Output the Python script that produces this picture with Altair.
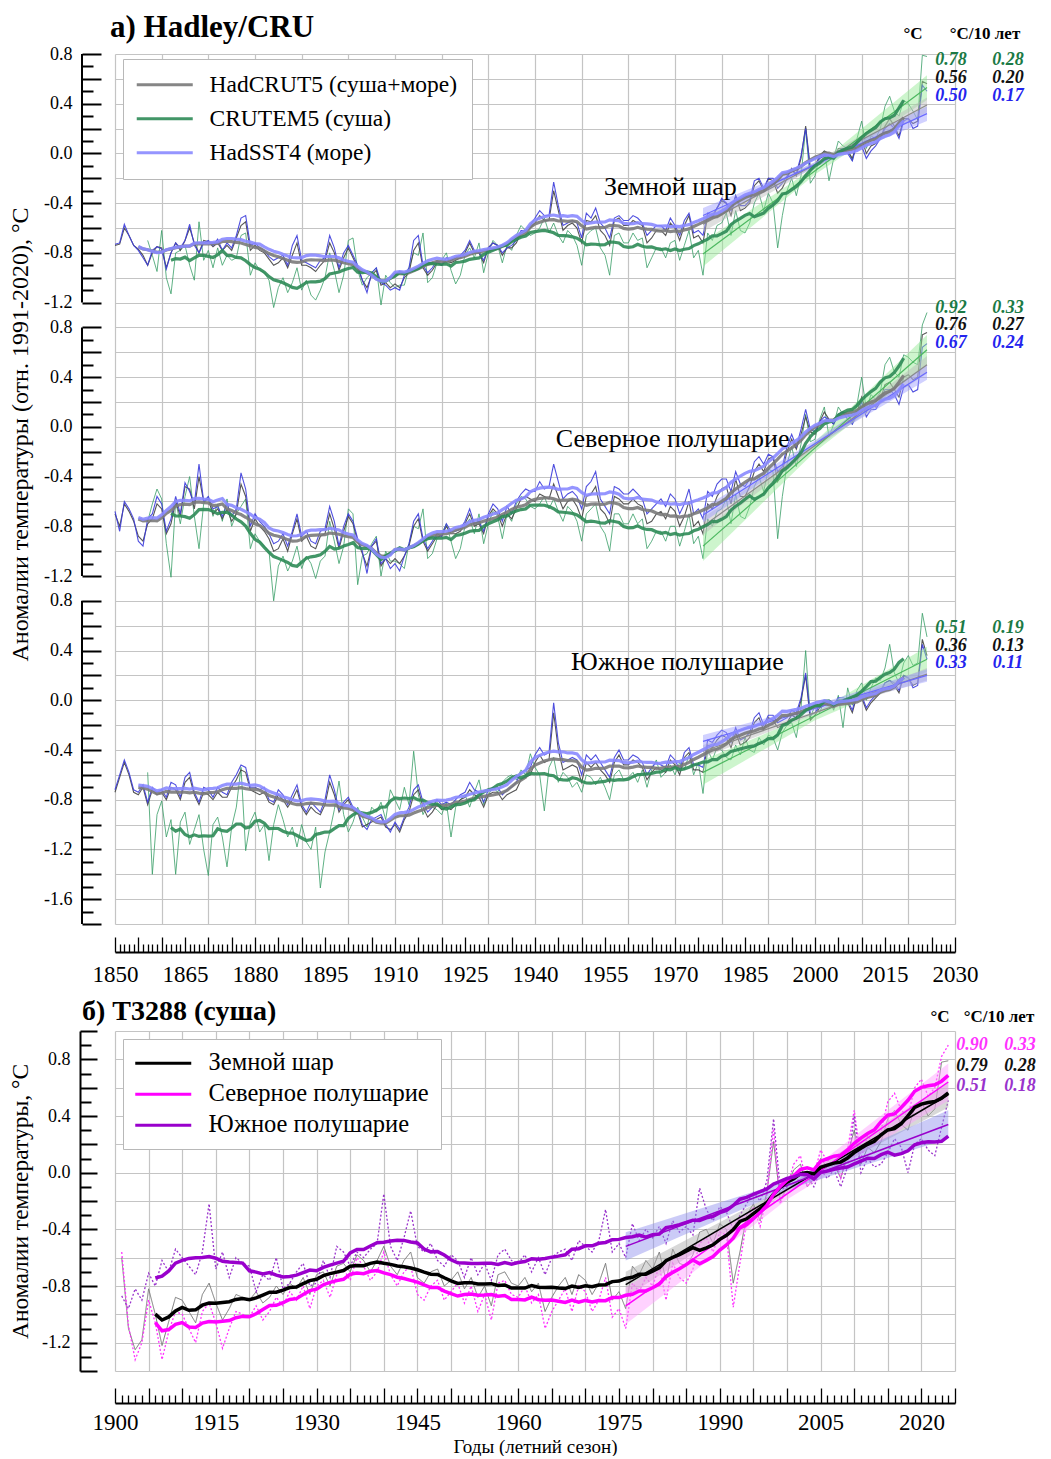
import altair as alt
import pandas as pd

FONT = "Liberation Serif"

# ======================= PART A: Hadley/CRU =======================
YEARS_A = list(range(1850, 2025))
YEARS_A_LAND = list(range(1857, 2025))
SERIES_A = ["HadCRUT5 (суша+море)", "CRUTEM5 (суша)", "HadSST4 (море)"]
PANELS_A = ["Земной шар", "Северное полушарие", "Южное полушарие"]

GL_HC = [
    -0.74, -0.73, -0.60, -0.66, -0.74, -0.77, -0.82, -0.90, -0.80, -0.75,
    -0.76, -0.92, -0.80, -0.72, -0.78, -0.70, -0.60, -0.72, -0.80, -0.70,
    -0.71, -0.75, -0.72, -0.78, -0.74, -0.78, -0.68, -0.58, -0.55, -0.78,
    -0.74, -0.78, -0.80, -0.85, -0.90, -0.88, -0.84, -0.92, -0.82, -0.72,
    -0.90, -0.90, -0.92, -0.95, -0.90, -0.86, -0.72, -0.80, -0.94, -0.84,
    -0.76, -0.84, -0.92, -1.02, -1.08, -0.98, -0.94, -1.06, -1.04, -1.08,
    -1.05, -1.08, -1.00, -0.96, -0.78, -0.72, -0.92, -0.98, -0.94, -0.88,
    -0.90, -0.86, -0.88, -0.86, -0.84, -0.80, -0.72, -0.80, -0.80, -0.88,
    -0.76, -0.72, -0.74, -0.82, -0.76, -0.76, -0.72, -0.64, -0.62, -0.60,
    -0.56, -0.50, -0.54, -0.54, -0.30, -0.46, -0.62, -0.58, -0.56, -0.60,
    -0.72, -0.54, -0.55, -0.50, -0.62, -0.66, -0.74, -0.54, -0.52, -0.58,
    -0.58, -0.54, -0.56, -0.58, -0.72, -0.68, -0.62, -0.62, -0.66, -0.56,
    -0.60, -0.70, -0.58, -0.50, -0.68, -0.66, -0.72, -0.50, -0.52, -0.44,
    -0.38, -0.40, -0.50, -0.34, -0.46, -0.44, -0.40, -0.26, -0.22, -0.30,
    -0.20, -0.22, -0.32, -0.28, -0.20, -0.12, -0.18, -0.04, 0.22, -0.12,
    -0.10, -0.02, 0.02, 0.00, -0.04, 0.04, 0.04, 0.02, -0.04, 0.08,
    0.12, 0.00, 0.06, 0.08, 0.12, 0.22, 0.28, 0.22, 0.14, 0.28,
    0.28, 0.24, 0.26, 0.58, 0.56,
]
GL_SS = [
    -0.73, -0.72, -0.57, -0.66, -0.74, -0.78, -0.84, -0.90, -0.78, -0.75,
    -0.77, -0.93, -0.80, -0.72, -0.76, -0.70, -0.57, -0.74, -0.80, -0.72,
    -0.70, -0.74, -0.69, -0.78, -0.72, -0.76, -0.66, -0.52, -0.50, -0.74,
    -0.72, -0.76, -0.78, -0.83, -0.86, -0.84, -0.82, -0.90, -0.74, -0.66,
    -0.86, -0.88, -0.90, -0.92, -0.86, -0.84, -0.66, -0.76, -0.92, -0.80,
    -0.74, -0.82, -0.90, -1.02, -1.12, -0.96, -0.92, -1.04, -1.06, -1.10,
    -1.08, -1.10, -0.98, -0.92, -0.70, -0.66, -0.90, -0.96, -0.92, -0.86,
    -0.90, -0.84, -0.86, -0.84, -0.82, -0.78, -0.70, -0.78, -0.80, -0.86,
    -0.76, -0.72, -0.74, -0.80, -0.76, -0.74, -0.70, -0.62, -0.62, -0.58,
    -0.52, -0.46, -0.50, -0.50, -0.23, -0.42, -0.58, -0.56, -0.54, -0.56,
    -0.68, -0.48, -0.52, -0.44, -0.56, -0.60, -0.68, -0.52, -0.50, -0.54,
    -0.54, -0.50, -0.52, -0.56, -0.66, -0.62, -0.58, -0.58, -0.62, -0.52,
    -0.58, -0.66, -0.54, -0.48, -0.64, -0.62, -0.66, -0.48, -0.50, -0.44,
    -0.36, -0.40, -0.46, -0.34, -0.42, -0.42, -0.38, -0.22, -0.20, -0.28,
    -0.20, -0.20, -0.28, -0.24, -0.18, -0.14, -0.16, -0.02, 0.20, -0.14,
    -0.10, -0.04, -0.02, -0.02, -0.04, 0.02, 0.04, 0.00, -0.06, 0.08,
    0.06, -0.04, 0.02, 0.06, 0.12, 0.20, 0.24, 0.20, 0.12, 0.26,
    0.28, 0.20, 0.22, 0.55, 0.50,
]
GL_CR = [
    -0.70, -0.82, -0.95,
    -0.62, -1.00, -1.13, -0.80, -0.78, -0.74, -0.90, -1.02, -0.55, -0.86,
    -0.78, -0.92, -0.76, -0.90, -0.82, -0.86, -0.84, -0.66, -0.64, -0.98,
    -0.88, -0.94, -0.96, -1.02, -1.24, -1.08, -1.00, -1.12, -1.04, -0.92,
    -1.10, -1.02, -1.14, -1.18, -1.10, -1.00, -0.80, -0.94, -1.12, -0.98,
    -0.70, -0.68, -0.94, -1.06, -1.00, -0.96, -0.92, -1.22, -0.98, -1.04,
    -1.08, -1.06, -1.06, -0.92, -0.80, -0.82, -0.64, -1.04, -1.00, -0.88,
    -0.86, -0.80, -0.94, -1.05, -0.98, -0.82, -0.76, -0.84, -0.72, -0.96,
    -0.80, -0.70, -0.74, -0.88, -0.74, -0.78, -0.66, -0.58, -0.62, -0.66,
    -0.64, -0.60, -0.52, -0.64, -0.56, -0.66, -0.72, -0.62, -0.66, -0.74,
    -0.90, -0.66, -0.62, -0.60, -0.76, -0.82, -0.98, -0.66, -0.64, -0.72,
    -0.72, -0.64, -0.70, -0.68, -0.92, -0.84, -0.76, -0.76, -0.84, -0.72,
    -0.70, -0.86, -0.74, -0.62, -0.84, -0.78, -0.98, -0.64, -0.70, -0.58,
    -0.56, -0.48, -0.66, -0.46, -0.62, -0.64, -0.56, -0.40, -0.32, -0.46,
    -0.32, -0.40, -0.76, -0.50, -0.30, -0.20, -0.34, -0.18, 0.20, -0.24,
    -0.18, -0.02, 0.02, -0.22, -0.04, 0.10, 0.06, 0.04, -0.06, 0.12,
    0.26, 0.04, 0.14, 0.12, 0.20, 0.38, 0.46, 0.34, 0.30, 0.43,
    0.40, 0.34, 0.27, 0.79, 0.78,
]
NH_HC = [
    -0.70, -0.80, -0.62, -0.68, -0.76, -0.88, -0.92, -0.78, -0.74, -0.62,
    -0.66, -0.86, -0.78, -0.60, -0.72, -0.48, -0.50, -0.66, -0.40, -0.60,
    -0.58, -0.70, -0.66, -0.74, -0.66, -0.76, -0.70, -0.46, -0.56, -0.84,
    -0.74, -0.80, -0.84, -0.90, -1.00, -0.98, -0.90, -1.00, -0.86, -0.74,
    -0.92, -0.88, -0.96, -0.98, -0.88, -0.86, -0.70, -0.82, -0.98, -0.84,
    -0.72, -0.78, -0.92, -1.02, -1.12, -0.96, -0.92, -1.12, -1.06, -1.10,
    -1.06, -1.10, -1.04, -0.96, -0.80, -0.74, -0.92, -1.00, -0.94, -0.88,
    -0.88, -0.80, -0.86, -0.86, -0.84, -0.78, -0.70, -0.80, -0.78, -0.86,
    -0.72, -0.66, -0.70, -0.80, -0.70, -0.74, -0.66, -0.58, -0.56, -0.58,
    -0.60, -0.54, -0.56, -0.58, -0.46, -0.56, -0.66, -0.60, -0.58, -0.64,
    -0.74, -0.56, -0.54, -0.48, -0.66, -0.70, -0.78, -0.56, -0.58, -0.62,
    -0.62, -0.58, -0.62, -0.64, -0.78, -0.76, -0.70, -0.68, -0.74, -0.64,
    -0.68, -0.80, -0.72, -0.60, -0.80, -0.76, -0.86, -0.62, -0.66, -0.56,
    -0.50, -0.48, -0.62, -0.42, -0.56, -0.56, -0.48, -0.36, -0.30, -0.36,
    -0.26, -0.24, -0.44, -0.36, -0.20, -0.10, -0.18, -0.06, 0.08, -0.04,
    -0.06, 0.04, 0.12, 0.06, 0.02, 0.10, 0.12, 0.10, 0.04, 0.12,
    0.24, 0.12, 0.20, 0.16, 0.22, 0.34, 0.36, 0.30, 0.24, 0.40,
    0.42, 0.38, 0.40, 0.74, 0.76,
]
NH_SS = [
    -0.68, -0.84, -0.60, -0.66, -0.74, -0.92, -0.96, -0.74, -0.70, -0.56,
    -0.62, -0.84, -0.74, -0.56, -0.70, -0.45, -0.52, -0.62, -0.30, -0.60,
    -0.56, -0.66, -0.64, -0.72, -0.62, -0.72, -0.66, -0.37, -0.50, -0.80,
    -0.70, -0.76, -0.80, -0.86, -0.94, -0.92, -0.86, -0.96, -0.84, -0.70,
    -0.88, -0.84, -0.92, -0.94, -0.84, -0.82, -0.64, -0.76, -0.96, -0.80,
    -0.70, -0.76, -0.90, -1.00, -1.18, -0.96, -0.90, -1.10, -1.06, -1.14,
    -1.10, -1.16, -1.04, -0.94, -0.76, -0.70, -0.90, -0.98, -0.92, -0.86,
    -0.88, -0.78, -0.84, -0.84, -0.82, -0.76, -0.66, -0.78, -0.76, -0.84,
    -0.70, -0.62, -0.66, -0.76, -0.64, -0.70, -0.60, -0.54, -0.50, -0.52,
    -0.52, -0.44, -0.50, -0.48, -0.30, -0.44, -0.58, -0.54, -0.52, -0.56,
    -0.66, -0.48, -0.44, -0.36, -0.58, -0.64, -0.70, -0.48, -0.50, -0.54,
    -0.54, -0.50, -0.54, -0.58, -0.70, -0.66, -0.62, -0.58, -0.64, -0.54,
    -0.58, -0.70, -0.62, -0.50, -0.70, -0.66, -0.74, -0.52, -0.56, -0.46,
    -0.42, -0.42, -0.52, -0.36, -0.46, -0.48, -0.42, -0.28, -0.24, -0.30,
    -0.22, -0.24, -0.36, -0.32, -0.16, -0.06, -0.16, -0.02, 0.14, -0.02,
    -0.04, 0.04, 0.08, 0.06, 0.02, 0.10, 0.12, 0.06, 0.02, 0.10,
    0.20, 0.08, 0.14, 0.14, 0.20, 0.30, 0.30, 0.26, 0.18, 0.32,
    0.34, 0.28, 0.30, 0.64, 0.67,
]
NH_CR = [
    -0.76, -0.62, -0.50,
    -0.58, -0.94, -1.21, -0.60, -0.78, -0.56, -0.40, -0.72, -0.98, -0.62,
    -0.56, -0.72, -0.62, -0.76, -0.58, -0.80, -0.70, -0.64, -0.58, -0.98,
    -0.86, -0.92, -0.96, -1.00, -1.40, -1.12, -1.04, -1.16, -1.08, -0.96,
    -1.14, -1.04, -1.10, -1.22, -1.08, -1.04, -0.76, -0.92, -1.10, -0.96,
    -0.66, -0.70, -1.27, -1.04, -1.02, -0.94, -0.88, -1.20, -1.00, -1.08,
    -1.08, -1.10, -1.14, -0.94, -0.80, -0.82, -0.66, -1.06, -1.02, -0.90,
    -0.86, -0.78, -0.92, -1.06, -0.98, -0.80, -0.74, -0.86, -0.70, -0.94,
    -0.78, -0.68, -0.72, -0.90, -0.70, -0.76, -0.62, -0.56, -0.58, -0.64,
    -0.66, -0.62, -0.56, -0.66, -0.58, -0.68, -0.76, -0.64, -0.68, -0.76,
    -0.92, -0.70, -0.66, -0.62, -0.80, -0.86, -1.00, -0.70, -0.70, -0.78,
    -0.78, -0.70, -0.78, -0.74, -0.98, -0.92, -0.84, -0.84, -0.92, -0.80,
    -0.80, -0.96, -0.84, -0.70, -0.94, -0.88, -1.06, -0.74, -0.80, -0.68,
    -0.66, -0.58, -0.78, -0.54, -0.72, -0.74, -0.64, -0.48, -0.40, -0.52,
    -0.34, -0.36, -0.90, -0.56, -0.30, -0.16, -0.32, -0.14, 0.10, -0.12,
    -0.10, 0.06, 0.16, -0.08, 0.02, 0.16, 0.10, 0.12, 0.02, 0.18,
    0.40, 0.14, 0.26, 0.22, 0.28, 0.50, 0.56, 0.44, 0.40, 0.58,
    0.56, 0.52, 0.50, 0.82, 0.92,
]
SH_HC = [
    -0.74, -0.62, -0.50, -0.60, -0.74, -0.76, -0.70, -0.84, -0.72, -0.76,
    -0.74, -0.80, -0.70, -0.72, -0.80, -0.66, -0.62, -0.76, -0.84, -0.74,
    -0.76, -0.80, -0.74, -0.78, -0.78, -0.70, -0.64, -0.56, -0.58, -0.72,
    -0.74, -0.76, -0.74, -0.82, -0.84, -0.76, -0.80, -0.86, -0.80, -0.72,
    -0.86, -0.92, -0.86, -0.90, -0.92, -0.84, -0.66, -0.76, -0.90, -0.84,
    -0.80, -0.88, -0.90, -1.02, -1.00, -0.98, -0.96, -0.94, -1.02, -1.04,
    -1.00, -1.06, -0.96, -0.90, -0.76, -0.72, -0.86, -0.94, -0.90, -0.84,
    -0.88, -0.86, -0.88, -0.84, -0.80, -0.78, -0.72, -0.76, -0.78, -0.86,
    -0.76, -0.74, -0.74, -0.80, -0.76, -0.74, -0.72, -0.64, -0.62, -0.60,
    -0.50, -0.44, -0.50, -0.48, -0.10, -0.40, -0.56, -0.54, -0.52, -0.54,
    -0.66, -0.50, -0.54, -0.50, -0.56, -0.60, -0.66, -0.50, -0.44, -0.52,
    -0.52, -0.48, -0.50, -0.54, -0.64, -0.58, -0.54, -0.56, -0.58, -0.48,
    -0.52, -0.60, -0.46, -0.42, -0.56, -0.56, -0.58, -0.36, -0.38, -0.32,
    -0.28, -0.30, -0.38, -0.26, -0.36, -0.34, -0.30, -0.18, -0.14, -0.24,
    -0.14, -0.16, -0.22, -0.20, -0.18, -0.12, -0.14, 0.00, 0.20, -0.16,
    -0.12, -0.06, -0.04, -0.02, -0.06, 0.00, 0.00, -0.02, -0.10, 0.04,
    0.02, -0.08, -0.02, 0.02, 0.06, 0.14, 0.16, 0.12, 0.06, 0.20,
    0.18, 0.12, 0.14, 0.49, 0.36,
]
SH_SS = [
    -0.72, -0.60, -0.48, -0.58, -0.72, -0.74, -0.68, -0.82, -0.70, -0.74,
    -0.72, -0.78, -0.66, -0.68, -0.78, -0.62, -0.58, -0.74, -0.82, -0.70,
    -0.72, -0.78, -0.70, -0.74, -0.76, -0.66, -0.60, -0.52, -0.54, -0.70,
    -0.70, -0.72, -0.70, -0.80, -0.82, -0.72, -0.76, -0.84, -0.76, -0.68,
    -0.84, -0.90, -0.82, -0.86, -0.90, -0.80, -0.60, -0.72, -0.88, -0.82,
    -0.78, -0.86, -0.88, -1.00, -1.04, -0.96, -0.94, -0.92, -1.00, -1.06,
    -0.98, -1.04, -0.94, -0.86, -0.72, -0.68, -0.82, -0.90, -0.86, -0.80,
    -0.84, -0.82, -0.84, -0.80, -0.76, -0.74, -0.66, -0.72, -0.74, -0.82,
    -0.72, -0.70, -0.70, -0.76, -0.72, -0.70, -0.66, -0.58, -0.56, -0.54,
    -0.44, -0.38, -0.44, -0.42, -0.02, -0.34, -0.50, -0.48, -0.46, -0.48,
    -0.60, -0.44, -0.48, -0.44, -0.50, -0.56, -0.62, -0.46, -0.40, -0.48,
    -0.48, -0.44, -0.46, -0.50, -0.60, -0.54, -0.50, -0.52, -0.54, -0.44,
    -0.48, -0.56, -0.42, -0.38, -0.52, -0.52, -0.54, -0.32, -0.34, -0.28,
    -0.24, -0.26, -0.34, -0.22, -0.32, -0.30, -0.26, -0.14, -0.10, -0.20,
    -0.12, -0.12, -0.18, -0.16, -0.14, -0.08, -0.10, 0.02, 0.22, -0.12,
    -0.10, -0.04, -0.02, 0.00, -0.04, 0.02, 0.02, 0.00, -0.08, 0.06,
    0.04, -0.06, 0.00, 0.04, 0.08, 0.14, 0.16, 0.14, 0.08, 0.20,
    0.18, 0.10, 0.12, 0.45, 0.33,
]
SH_CR = [
    -0.58, -1.40, -0.92,
    -0.81, -1.10, -0.96, -1.40, -0.98, -0.90, -1.16, -1.04, -0.92, -1.20,
    -1.41, -1.00, -0.94, -1.10, -1.34, -1.02, -0.86, -0.54, -1.21, -0.98,
    -0.90, -1.06, -1.00, -1.29, -1.00, -0.84, -0.96, -1.10, -1.02, -1.18,
    -1.00, -1.14, -1.20, -1.02, -1.51, -1.22, -1.06, -0.88, -0.65, -0.92,
    -1.06, -0.98, -0.86, -0.94, -1.02, -0.86, -0.90, -0.82, -0.96, -0.72,
    -0.80, -0.88, -0.70, -0.84, -0.41, -0.76, -0.92, -0.84, -0.86, -0.88,
    -0.92, -0.82, -1.10, -0.86, -0.80, -0.76, -0.86, -0.74, -0.64, -0.84,
    -0.76, -0.70, -0.74, -0.66, -0.62, -0.60, -0.64, -0.56, -0.60, -0.43,
    -0.54, -0.60, -0.89, -0.54, -0.46, -0.66, -0.58, -0.62, -0.70, -0.66,
    -0.74, -0.60, -0.62, -0.68, -0.62, -0.70, -0.80, -0.60, -0.56, -0.64,
    -0.62, -0.58, -0.66, -0.56, -0.70, -0.56, -0.48, -0.62, -0.58, -0.52,
    -0.60, -0.50, -0.56, -0.44, -0.60, -0.50, -0.75, -0.40, -0.48, -0.38,
    -0.40, -0.46, -0.48, -0.36, -0.44, -0.30, -0.40, -0.42, -0.30, -0.36,
    -0.28, -0.30, -0.40, -0.26, -0.20, -0.18, -0.30, -0.06, 0.40, -0.14,
    -0.04, -0.10, 0.00, 0.00, -0.08, 0.04, -0.22, 0.10, -0.04, 0.08,
    0.14, 0.00, 0.10, 0.18, 0.16, 0.26, 0.45, 0.22, 0.14, 0.30,
    0.36, 0.28, 0.30, 0.70, 0.51,
]

# linear trends 1976-2024 with confidence bands (per panel: HadCRUT5, CRUTEM5, HadSST4)
TREND_YEARS = [1976, 2024]
BAND_YEARS = [1976, 2000, 2024]
TREND_A_START = [[-0.57, -0.81, -0.50], [-0.80, -0.96, -0.71], [-0.41, -0.58, -0.33]]
TREND_A_END = [[0.39, 0.53, 0.32], [0.50, 0.62, 0.44], [0.21, 0.33, 0.20]]
BAND_A_LO = [
    [[-0.63, -0.11, 0.33], [-0.91, -0.17, 0.43], [-0.56, -0.11, 0.26]],
    [[-0.87, -0.17, 0.43], [-1.08, -0.20, 0.50], [-0.77, -0.15, 0.38]],
    [[-0.46, -0.11, 0.16], [-0.68, -0.16, 0.23], [-0.38, -0.08, 0.15]],
]
BAND_A_HI = [
    [[-0.51, -0.07, 0.45], [-0.71, -0.11, 0.63], [-0.44, -0.07, 0.38]],
    [[-0.73, -0.13, 0.57], [-0.84, -0.12, 0.74], [-0.65, -0.11, 0.50]],
    [[-0.36, -0.09, 0.26], [-0.48, -0.10, 0.43], [-0.28, -0.04, 0.25]],
]
# annotation numbers per panel, rows: CRUTEM5, HadCRUT5, HadSST4
ANNO_A_C = [[0.78, 0.56, 0.50], [0.92, 0.76, 0.67], [0.51, 0.36, 0.33]]
ANNO_A_T = [[0.28, 0.20, 0.17], [0.33, 0.27, 0.24], [0.19, 0.13, 0.11]]

# ======================= PART B: T3288 =======================
YEARS_B = list(range(1901, 2025))
SERIES_B = ["Земной шар", "Северное полушарие", "Южное полушарие"]
B_GL = [
    -0.60, -1.10, -1.25, -1.18, -0.82, -1.00, -1.22, -1.05, -0.88,
    -0.90, -0.98, -1.06, -0.86, -0.78, -0.92, -1.04, -0.96, -0.86, -0.88,
    -0.90, -0.84, -0.92, -0.88, -0.80, -0.86, -0.78, -0.82, -0.74, -0.86,
    -0.72, -0.70, -0.80, -0.66, -0.64, -0.70, -0.58, -0.62, -0.70, -0.62,
    -0.52, -0.66, -0.72, -0.62, -0.56, -0.74, -0.78, -0.70, -0.68, -0.80,
    -0.76, -0.70, -0.82, -0.74, -0.88, -0.80, -0.94, -0.72, -0.70, -0.78,
    -0.80, -0.74, -0.84, -0.78, -0.98, -0.88, -0.80, -0.74, -0.86, -0.72,
    -0.76, -0.86, -0.78, -0.64, -0.90, -0.84, -0.96, -0.66, -0.72, -0.62,
    -0.68, -0.56, -0.76, -0.54, -0.64, -0.66, -0.58, -0.42, -0.40, -0.50,
    -0.36, -0.40, -0.78, -0.56, -0.30, -0.22, -0.34, -0.14, 0.22, -0.20,
    -0.10, 0.02, 0.06, -0.10, -0.04, 0.10, 0.04, 0.06, -0.04, 0.12,
    0.30, 0.06, 0.18, 0.14, 0.22, 0.38, 0.44, 0.34, 0.30, 0.46,
    0.50, 0.40, 0.45, 0.78, 0.79,
]
B_NH = [
    -0.56, -1.08, -1.32, -1.20, -0.90, -1.06, -1.32, -1.12, -0.98,
    -1.00, -1.10, -1.20, -0.98, -0.92, -1.06, -1.24, -1.10, -0.98, -1.00,
    -1.02, -0.94, -1.04, -0.98, -0.88, -0.94, -0.84, -0.90, -0.80, -0.96,
    -0.80, -0.76, -0.88, -0.72, -0.68, -0.76, -0.60, -0.66, -0.76, -0.70,
    -0.56, -0.72, -0.80, -0.70, -0.66, -0.86, -0.90, -0.80, -0.76, -0.90,
    -0.84, -0.78, -0.92, -0.80, -0.98, -0.86, -1.04, -0.78, -0.76, -0.86,
    -0.88, -0.80, -0.92, -0.86, -1.10, -0.98, -0.90, -0.82, -0.98, -0.80,
    -0.84, -0.98, -0.90, -0.74, -1.02, -0.96, -1.10, -0.78, -0.84, -0.74,
    -0.80, -0.66, -0.90, -0.64, -0.74, -0.78, -0.68, -0.50, -0.46, -0.56,
    -0.42, -0.44, -0.95, -0.64, -0.34, -0.24, -0.38, -0.16, 0.31, -0.22,
    -0.10, 0.06, 0.12, -0.10, -0.02, 0.16, 0.08, 0.12, -0.04, 0.16,
    0.44, 0.10, 0.26, 0.20, 0.30, 0.50, 0.56, 0.44, 0.40, 0.60,
    0.66, 0.54, 0.60, 0.82, 0.90,
]
B_SH = [
    -0.87, -0.96, -0.82, -0.90, -0.71, -0.80, -0.62, -0.70, -0.54,
    -0.60, -0.66, -0.72, -0.56, -0.22, -0.68, -0.56, -0.74, -0.60, -0.64,
    -0.66, -0.84, -0.72, -0.76, -0.60, -0.82, -0.78, -0.70, -0.64, -0.80,
    -0.78, -0.62, -0.74, -0.52, -0.56, -0.66, -0.56, -0.60, -0.54, -0.50,
    -0.15, -0.52, -0.62, -0.46, -0.27, -0.52, -0.56, -0.50, -0.62, -0.66,
    -0.58, -0.62, -0.74, -0.60, -0.72, -0.64, -0.76, -0.58, -0.54, -0.62,
    -0.64, -0.58, -0.70, -0.60, -0.72, -0.60, -0.56, -0.54, -0.62, -0.48,
    -0.52, -0.56, -0.48, -0.26, -0.56, -0.50, -0.60, -0.36, -0.48, -0.40,
    -0.46, -0.38, -0.50, -0.34, -0.42, -0.38, -0.44, -0.11, -0.26, -0.34,
    -0.24, -0.28, -0.40, -0.30, -0.22, -0.14, -0.20, -0.06, 0.38, -0.12,
    -0.10, -0.04, -0.06, -0.02, -0.10, 0.02, -0.04, 0.02, -0.10, 0.04,
    0.40, 0.00, 0.10, 0.04, 0.06, 0.14, 0.24, 0.18, 0.00, 0.20,
    0.24, 0.16, 0.12, 0.32, 0.51,
]
TREND_B_START = [-0.79, -0.94, -0.52]
TREND_B_END = [0.55, 0.64, 0.34]
BAND_B_LO = [[-0.88, -0.14, 0.46], [-1.07, -0.19, 0.51], [-0.62, -0.12, 0.24]]
BAND_B_HI = [[-0.70, -0.10, 0.64], [-0.81, -0.11, 0.77], [-0.42, -0.06, 0.44]]
# rows: NH, Global, SH
ANNO_B_C = [0.90, 0.79, 0.51]
ANNO_B_T = [0.33, 0.28, 0.18]

# ======================= layout / style =======================
W = 840
HA = 870
HB = 340
SHIFT = [0.0, 2.2, 4.4]            # vertical stacking of the three panels
LOCAL_RANGE = [(0.8, -1.2), (0.8, -1.2), (0.8, -1.8)]
GRID_COLOR = "#c4c4c4"

THIN_A = ["#444444", "#3a9e68", "#3c3cdc"]
SMOOTH_A = ["#7a7a7a", "#2e8b57", "#8a8aff"]
BAND_COL_A = ["#b8b8b8", "#90e890", "#9a9aff"]
TREND_COL_A = ["#8a8a8a", "#4cb860", "#6a6aff"]
ANNO_COL_A = ["#111111", "#1b7a45", "#2424ee"]

SMOOTH_B = ["#000000", "#ff00ff", "#9900cc"]
THIN_B = ["#777777", "#ff33ff", "#9933cc"]
BAND_COL_B = ["#a8a8a8", "#ff9cff", "#8c8cee"]
ANNO_COL_B = ["#111111", "#ff33ff", "#9933cc"]


def steps(top, bot, step):
    n = int(round((top - bot) / step))
    return [round(top - i * step, 2) for i in range(n + 1)]


# ---------------- part A dataframes ----------------
series_data = [(GL_HC, GL_CR, GL_SS), (NH_HC, NH_CR, NH_SS), (SH_HC, SH_CR, SH_SS)]
rows = []
for p, trio in enumerate(series_data):
    for s, vals in enumerate(trio):
        yrs = YEARS_A_LAND if s == 1 else YEARS_A
        for y, v in zip(yrs, vals):
            rows.append(dict(year=y, value=v, yp=v - SHIFT[p], shift=SHIFT[p],
                             series=SERIES_A[s], s=s, panel=p))
dfa = pd.DataFrame(rows)

band_rows, trend_rows = [], []
for p in range(3):
    for s in range(3):
        for i, y in enumerate(BAND_YEARS):
            band_rows.append(dict(panel=p, s=s, year=y,
                                  lo=BAND_A_LO[p][s][i] - SHIFT[p],
                                  hi=BAND_A_HI[p][s][i] - SHIFT[p]))
        for y, v in zip(TREND_YEARS, [TREND_A_START[p][s], TREND_A_END[p][s]]):
            trend_rows.append(dict(panel=p, s=s, year=y, yt=v - SHIFT[p]))
band_a = pd.DataFrame(band_rows)
trend_a = pd.DataFrame(trend_rows)

seg_a = pd.DataFrame([dict(top=LOCAL_RANGE[p][0] - SHIFT[p], bot=LOCAL_RANGE[p][1] - SHIFT[p])
                      for p in range(3)])

PANEL_LABEL_X = [1969, 1969.5, 1970.5]
PANEL_LABEL_Y = [-0.27, -0.10, 0.31]
plab_a = pd.DataFrame([dict(t=PANELS_A[p], year=PANEL_LABEL_X[p], y=PANEL_LABEL_Y[p] - SHIFT[p])
                       for p in range(3)])

ANNO_TOP_A = [0.75, 0.96, 0.58]
ANNO_STEP_A = 0.142
anno_rows = []
for p in range(3):
    for r, s in enumerate([1, 0, 2]):
        anno_rows.append(dict(s=s, y=ANNO_TOP_A[p] - r * ANNO_STEP_A - SHIFT[p],
                              c=f"{ANNO_A_C[p][r]:.2f}", t=f"{ANNO_A_T[p][r]:.2f}"))
anno_a = pd.DataFrame(anno_rows)

grid_a, ticks_a = [], []
for p in range(3):
    t, b = LOCAL_RANGE[p]
    grid_a += [round(v - SHIFT[p], 2) for v in steps(t, b, 0.2)]
    ticks_a += [round(v - SHIFT[p], 2) for v in steps(t, b, 0.1)]

LOC = "(datum.value > -1.3 ? datum.value : (datum.value > -3.5 ? datum.value + 2.2 : datum.value + 4.4))"
label_a = f"abs(round({LOC} * 10)) % 4 == 0 ? replace(format(round({LOC} * 10) / 10 + 0, '.1f'), '\u2212', '-') : ''"

xa = alt.Scale(domain=[1850, 2030], nice=False, zero=False)
ya = alt.Scale(domain=[-6.2, 0.8], nice=False, zero=False)

x_axis_A = alt.Axis(orient="bottom", values=list(range(1850, 2031, 10)), grid=True, labels=False,
                    ticks=False, domain=False, title=None, gridColor=GRID_COLOR, gridWidth=1.2)
y_axis_A = alt.Axis(orient="left", values=grid_a, grid=True, ticks=False, domain=False,
                    labelExpr=label_a, offset=33, labelPadding=10, labelFontSize=18, labelFont=FONT,
                    labelColor="black", labelOverlap=False, labelFlush=False,
                    title="Аномалии температуры (отн. 1991-2020), °C", titleFont=FONT,
                    titleFontSize=24, titleFontWeight="normal", titleColor="black",
                    titlePadding=11, titleY=380, gridColor=GRID_COLOR, gridWidth=1.2)
X_A = alt.X("year:Q", scale=xa, axis=x_axis_A)


def YA(field):
    return alt.Y(field, scale=ya, axis=y_axis_A)


layers_a = []
layers_a.append(alt.Chart(seg_a).mark_rule(color="black", strokeWidth=2).encode(
    x=alt.value(-33), y=YA("top:Q"), y2="bot:Q"))
for s in [1, 0, 2]:
    layers_a.append(alt.Chart(dfa[dfa.s == s]).mark_line(
        color=THIN_A[s], strokeWidth=0.9 if s == 1 else 1.1, opacity=0.9).encode(
        x=X_A, y=YA("yp:Q"), detail="panel:N"))
for s in [1, 0, 2]:
    layers_a.append(alt.Chart(band_a[band_a.s == s]).mark_area(
        color=BAND_COL_A[s], opacity=0.45).encode(
        x=X_A, y=YA("lo:Q"), y2="hi:Q", detail="panel:N"))
for s in [1, 0, 2]:
    layers_a.append(alt.Chart(trend_a[trend_a.s == s]).mark_line(
        color=TREND_COL_A[s], strokeWidth=1.2).encode(
        x=X_A, y=YA("yt:Q"), detail="panel:N"))

legend_a = alt.Legend(orient="none", legendX=8, legendY=5, title=None,
                      symbolType="M-2.8,0H2.8", symbolSize=400, symbolStrokeWidth=3,
                      symbolOffset=16, labelOffset=33, labelFont=FONT, labelFontSize=23.5,
                      labelColor="black", labelLimit=500, padding=14, rowPadding=9,
                      fillColor="white", strokeColor="#b8b8b8")
layers_a.append(alt.Chart(dfa).transform_window(
    sm="mean(value)", n="count()", frame=[-5, 5], groupby=["series", "panel"],
    sort=[alt.SortField("year", order="ascending")]
).transform_filter("datum.n == 11").transform_calculate(
    ys="datum.sm - datum.shift"
).mark_line(opacity=0.9).encode(
    x=X_A, y=YA("ys:Q"),
    color=alt.Color("series:N", scale=alt.Scale(domain=SERIES_A, range=SMOOTH_A), legend=legend_a),
    strokeWidth=alt.StrokeWidth("series:N", scale=alt.Scale(domain=SERIES_A, range=[3.2, 3.2, 4.2]),
                                legend=None),
    detail="panel:N"))

layers_a.append(alt.Chart(plab_a).mark_text(font=FONT, fontSize=26, color="black").encode(
    x=X_A, y=YA("y:Q"), text="t:N"))
for s in [1, 0, 2]:
    sub = anno_a[anno_a.s == s]
    for col, xpix in [("c", 836), ("t", 893)]:
        layers_a.append(alt.Chart(sub).mark_text(
            font=FONT, fontSize=18, fontWeight="bold", fontStyle="italic",
            color=ANNO_COL_A[s]).encode(x=alt.value(xpix), y=YA("y:Q"), text=f"{col}:N"))
for txt, xpix in [("°C", 798), ("°C/10 лет", 870)]:
    layers_a.append(alt.Chart(pd.DataFrame({"t": [txt]})).mark_text(
        font=FONT, fontSize=17, fontWeight="bold", color="black").encode(
        x=alt.value(xpix), y=alt.value(-20), text="t:N"))

layer_A = alt.layer(*layers_a)

x_axis_Bt = alt.Axis(orient="top", offset=-(HA + 28), values=list(range(1850, 2031)), labels=False,
                     grid=False, domain=True, domainColor="black", domainWidth=2, ticks=True,
                     tickColor="black", tickWidth=1.3,
                     tickSize={"condition": {"test": "datum.value % 5 == 0", "value": 15}, "value": 8},
                     title=None)
y_axis_Bt = alt.Axis(orient="right", offset=-(W + 33), values=ticks_a, labels=False, grid=False,
                     domain=False, tickColor="black", tickWidth=2,
                     tickSize={"condition": {"test": "abs(round(datum.value * 10)) % 2 == 0", "value": 19},
                               "value": 11},
                     title=None)
layer_Bt = alt.Chart(dfa).mark_point(opacity=0).encode(
    x=alt.X("year:Q", scale=xa, axis=x_axis_Bt), y=alt.Y("yp:Q", scale=ya, axis=y_axis_Bt))

x_axis_Cl = alt.Axis(orient="bottom", offset=28, values=list(range(1850, 2031, 15)), ticks=False,
                     domain=False, grid=False, labelPadding=11, labelFontSize=23, labelFont=FONT,
                     labelColor="black", format="d", labelFlush=False, labelOverlap=False, title=None)
layer_Cl = alt.Chart(dfa).mark_point(opacity=0).encode(
    x=alt.X("year:Q", scale=xa, axis=x_axis_Cl), y=alt.Y("yp:Q", scale=ya, axis=None))

chart_a = alt.layer(layer_A, layer_Bt, layer_Cl).resolve_scale(
    x="independent", y="independent").properties(
    width=W, height=HA,
    title=alt.TitleParams("а) Hadley/CRU", anchor="start", frame="group", dx=-5, fontSize=31,
                          fontWeight="bold", font=FONT, color="black", offset=-19))

# ---------------- part B dataframes ----------------
brows = []
for s, vals in enumerate([B_GL, B_NH, B_SH]):
    for y, v in zip(YEARS_B, vals):
        brows.append(dict(year=y, value=v, series=SERIES_B[s], s=s))
dfb = pd.DataFrame(brows)
band_b = pd.DataFrame([dict(s=s, year=y, lo=BAND_B_LO[s][i], hi=BAND_B_HI[s][i])
                       for s in range(3) for i, y in enumerate(BAND_YEARS)])
trend_b = pd.DataFrame([dict(s=s, year=y, yt=v) for s in range(3)
                        for y, v in zip(TREND_YEARS, [TREND_B_START[s], TREND_B_END[s]])])
ANNO_TOP_B = 0.90
ANNO_STEP_B = 0.145
anno_b = pd.DataFrame([dict(s=s, y=ANNO_TOP_B - r * ANNO_STEP_B,
                            c=f"{ANNO_B_C[r]:.2f}", t=f"{ANNO_B_T[r]:.2f}")
                       for r, s in enumerate([1, 0, 2])])

xb = alt.Scale(domain=[1900, 2025], nice=False, zero=False)
yb = alt.Scale(domain=[-1.4, 1.0], nice=False, zero=False)
label_b = ("abs(round(datum.value * 10)) % 4 == 0 ? "
           "replace(format(round(datum.value * 10) / 10 + 0, '.1f'), '\u2212', '-') : ''")
x_axis_bA = alt.Axis(orient="bottom", values=list(range(1900, 2026, 5)), grid=True, labels=False,
                     ticks=False, domain=False, title=None, gridColor=GRID_COLOR, gridWidth=1.2)
y_axis_bA = alt.Axis(orient="left", values=steps(1.0, -1.4, 0.2), grid=True, ticks=False, domain=False,
                     labelExpr=label_b, offset=35, labelPadding=10, labelFontSize=18, labelFont=FONT,
                     labelColor="black", labelOverlap=False, labelFlush=False,
                     title="Аномалии температуры, °C", titleFont=FONT, titleFontSize=23.5,
                     titleFontWeight="normal", titleColor="black", titlePadding=9,
                     gridColor=GRID_COLOR, gridWidth=1.2)
X_B = alt.X("year:Q", scale=xb, axis=x_axis_bA)


def YB(field):
    return alt.Y(field, scale=yb, axis=y_axis_bA)


layers_b = []
for s in [0, 1, 2]:
    layers_b.append(alt.Chart(dfb[dfb.s == s]).mark_line(
        color=THIN_B[s], strokeWidth=1.0 if s == 0 else 1.3,
        strokeDash=[1, 0] if s == 0 else [2, 2]).encode(x=X_B, y=YB("value:Q")))
for s in [0, 1, 2]:
    layers_b.append(alt.Chart(band_b[band_b.s == s]).mark_area(
        color=BAND_COL_B[s], opacity=0.45).encode(x=X_B, y=YB("lo:Q"), y2="hi:Q"))
for s in [0, 1, 2]:
    layers_b.append(alt.Chart(trend_b[trend_b.s == s]).mark_line(
        color=SMOOTH_B[s], strokeWidth=1.5).encode(x=X_B, y=YB("yt:Q")))
legend_b = alt.Legend(orient="none", legendX=8, legendY=8, title=None,
                      symbolType="M-2.8,0H2.8", symbolSize=400, symbolStrokeWidth=3,
                      symbolOffset=16, labelOffset=33, labelFont=FONT, labelFontSize=24.5,
                      labelColor="black", labelLimit=500, padding=12, rowPadding=6,
                      fillColor="white", strokeColor="#b8b8b8")
layers_b.append(alt.Chart(dfb).transform_window(
    sm="mean(value)", frame=[-5, 5], groupby=["series"],
    sort=[alt.SortField("year", order="ascending")]
).transform_filter("datum.year >= 1906").mark_line(strokeWidth=3.5).encode(
    x=X_B, y=YB("sm:Q"),
    color=alt.Color("series:N", scale=alt.Scale(domain=SERIES_B, range=SMOOTH_B), legend=legend_b)))
for s in [1, 0, 2]:
    sub = anno_b[anno_b.s == s]
    for col, xpix in [("c", 857), ("t", 905)]:
        layers_b.append(alt.Chart(sub).mark_text(
            font=FONT, fontSize=18, fontWeight="bold", fontStyle="italic",
            color=ANNO_COL_B[s]).encode(x=alt.value(xpix), y=YB("y:Q"), text=f"{col}:N"))
for txt, xpix in [("°C", 825), ("°C/10 лет", 884)]:
    layers_b.append(alt.Chart(pd.DataFrame({"t": [txt]})).mark_text(
        font=FONT, fontSize=17, fontWeight="bold", color="black").encode(
        x=alt.value(xpix), y=alt.value(-14), text="t:N"))
layer_bA = alt.layer(*layers_b)

x_axis_bBt = alt.Axis(orient="top", offset=-(HB + 32), values=list(range(1900, 2026)), labels=False,
                      grid=False, domain=True, domainColor="black", domainWidth=2, ticks=True,
                      tickColor="black", tickWidth=1.3,
                      tickSize={"condition": {"test": "datum.value % 5 == 0", "value": 15}, "value": 8},
                      title=None)
y_axis_bBt = alt.Axis(orient="right", offset=-(W + 35), values=steps(1.0, -1.4, 0.1), labels=False,
                      grid=False, domain=True, domainColor="black", domainWidth=2, tickColor="black",
                      tickWidth=2,
                      tickSize={"condition": {"test": "abs(round(datum.value * 10)) % 2 == 0", "value": 17},
                                "value": 11},
                      title=None)
layer_bBt = alt.Chart(dfb).mark_point(opacity=0).encode(
    x=alt.X("year:Q", scale=xb, axis=x_axis_bBt), y=alt.Y("value:Q", scale=yb, axis=y_axis_bBt))
x_axis_bCl = alt.Axis(orient="bottom", offset=32, values=list(range(1900, 2021, 15)), ticks=False,
                      domain=False, grid=False, labelPadding=8, labelFontSize=23, labelFont=FONT,
                      labelColor="black", format="d", labelFlush=False, labelOverlap=False,
                      title="Годы (летний сезон)", titleFont=FONT, titleFontSize=19,
                      titleFontWeight="normal", titleColor="black", titlePadding=3)
layer_bCl = alt.Chart(dfb).mark_point(opacity=0).encode(
    x=alt.X("year:Q", scale=xb, axis=x_axis_bCl), y=alt.Y("value:Q", scale=yb, axis=None))

chart_b = alt.layer(layer_bA, layer_bBt, layer_bCl).resolve_scale(
    x="independent", y="independent").properties(
    width=W, height=HB,
    title=alt.TitleParams("б) T3288 (суша)", anchor="start", frame="group", dx=-33, fontSize=28,
                          fontWeight="bold", font=FONT, color="black", offset=-18))

chart = alt.vconcat(chart_a, chart_b, spacing=12).resolve_scale(
    color="independent").properties(
    padding={"top": 4, "left": 0, "right": 0, "bottom": 0},
    background="white").configure_view(stroke=None)

chart.save("out.html", embed_options={"renderer": "svg", "actions": False})
